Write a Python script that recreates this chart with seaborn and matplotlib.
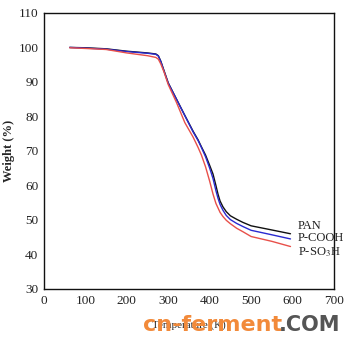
import numpy as np
import pandas as pd
import seaborn as sns
import matplotlib
matplotlib.use("Agg")
import matplotlib.pyplot as plt

temp = [62, 100, 150, 200, 250, 270, 276, 282, 290, 300, 320, 340, 360, 372, 380, 390, 400, 408,
        415, 420, 425, 432, 440, 450, 465, 480, 500, 550, 595]
pan = [100.0, 99.9, 99.6, 98.9, 98.4, 98.1, 97.6, 96.0, 93.2, 89.7, 85.0, 80.3, 75.7, 73.2, 71.2,
       68.8, 65.8, 63.3, 60.0, 57.5, 55.5, 53.8, 52.4, 51.2, 50.2, 49.3, 48.3, 47.1, 46.0]
pcooh = [100.0, 99.8, 99.5, 98.8, 98.3, 98.0, 97.5, 95.9, 93.0, 89.6, 84.9, 80.2, 75.5, 73.0, 71.0,
         68.3, 65.0, 62.0, 58.5, 56.3, 54.5, 52.8, 51.3, 50.1, 49.0, 48.1, 47.0, 45.7, 44.5]
pso3h = [99.9, 99.7, 99.4, 98.4, 97.6, 97.1, 96.6, 95.2, 92.8, 89.2, 84.0, 78.2, 74.0, 71.0, 68.8,
         65.4, 61.2, 57.5, 54.8, 53.5, 52.2, 51.0, 49.9, 48.9, 47.6, 46.6, 45.2, 43.8, 42.3]
series = ["PAN", "P-COOH", "P-SO$_3$H"]
label_y = [48.2, 44.7, 40.6]
xticks = [0, 100, 200, 300, 400, 500, 600, 700]
yticks = [30, 40, 50, 60, 70, 80, 90, 100, 110]

df = pd.DataFrame({
    "T": temp * 3,
    "W": pan + pcooh + pso3h,
    "s": [series[0]] * len(temp) + [series[1]] * len(temp) + [series[2]] * len(temp),
})

sns.set_style("white")
plt.rcParams["font.family"] = ["Liberation Serif", "DejaVu Serif"]
plt.rcParams["mathtext.fontset"] = "stix"

fig = plt.figure(figsize=(3.49, 3.49), dpi=100)
ax = fig.add_axes([0.126, 0.172, 0.831, 0.791])
palette = {series[0]: "#111111", series[1]: "#2a2ad0", series[2]: "#e8504a"}
sns.lineplot(data=df, x="T", y="W", hue="s", palette=palette, linewidth=1.0, ax=ax, legend=False)

ax.set_xlim(0, 700)
ax.set_ylim(30, 110)
ax.set_xticks(xticks)
ax.set_yticks(yticks)
ax.tick_params(direction="in", length=3, width=0.8, labelsize=9.5, colors="#222222", pad=4)
for sp in ax.spines.values():
    sp.set_visible(True)
    sp.set_color("#111111")
    sp.set_linewidth(1.0)
ax.set_xlabel("Temperature (K)", fontsize=8, labelpad=10)
ax.set_ylabel("Weight (%)", fontsize=9, fontweight="bold")
ax.yaxis.set_label_coords(-0.1, 0.5)

for name, yy in zip(series, label_y):
    ax.text(612, yy, name, fontsize=9, color="#222222", ha="left", va="center")

fig.text(0.41, 0.068, "cn-ferment", fontsize=16, fontweight="bold", color="#f28a3a",
         family="DejaVu Sans", ha="left", va="center")
fig.text(0.80, 0.068, ".COM", fontsize=15, fontweight="bold", color="#555555",
         family="DejaVu Sans", ha="left", va="center")

fig.savefig("out.png", dpi=100)
